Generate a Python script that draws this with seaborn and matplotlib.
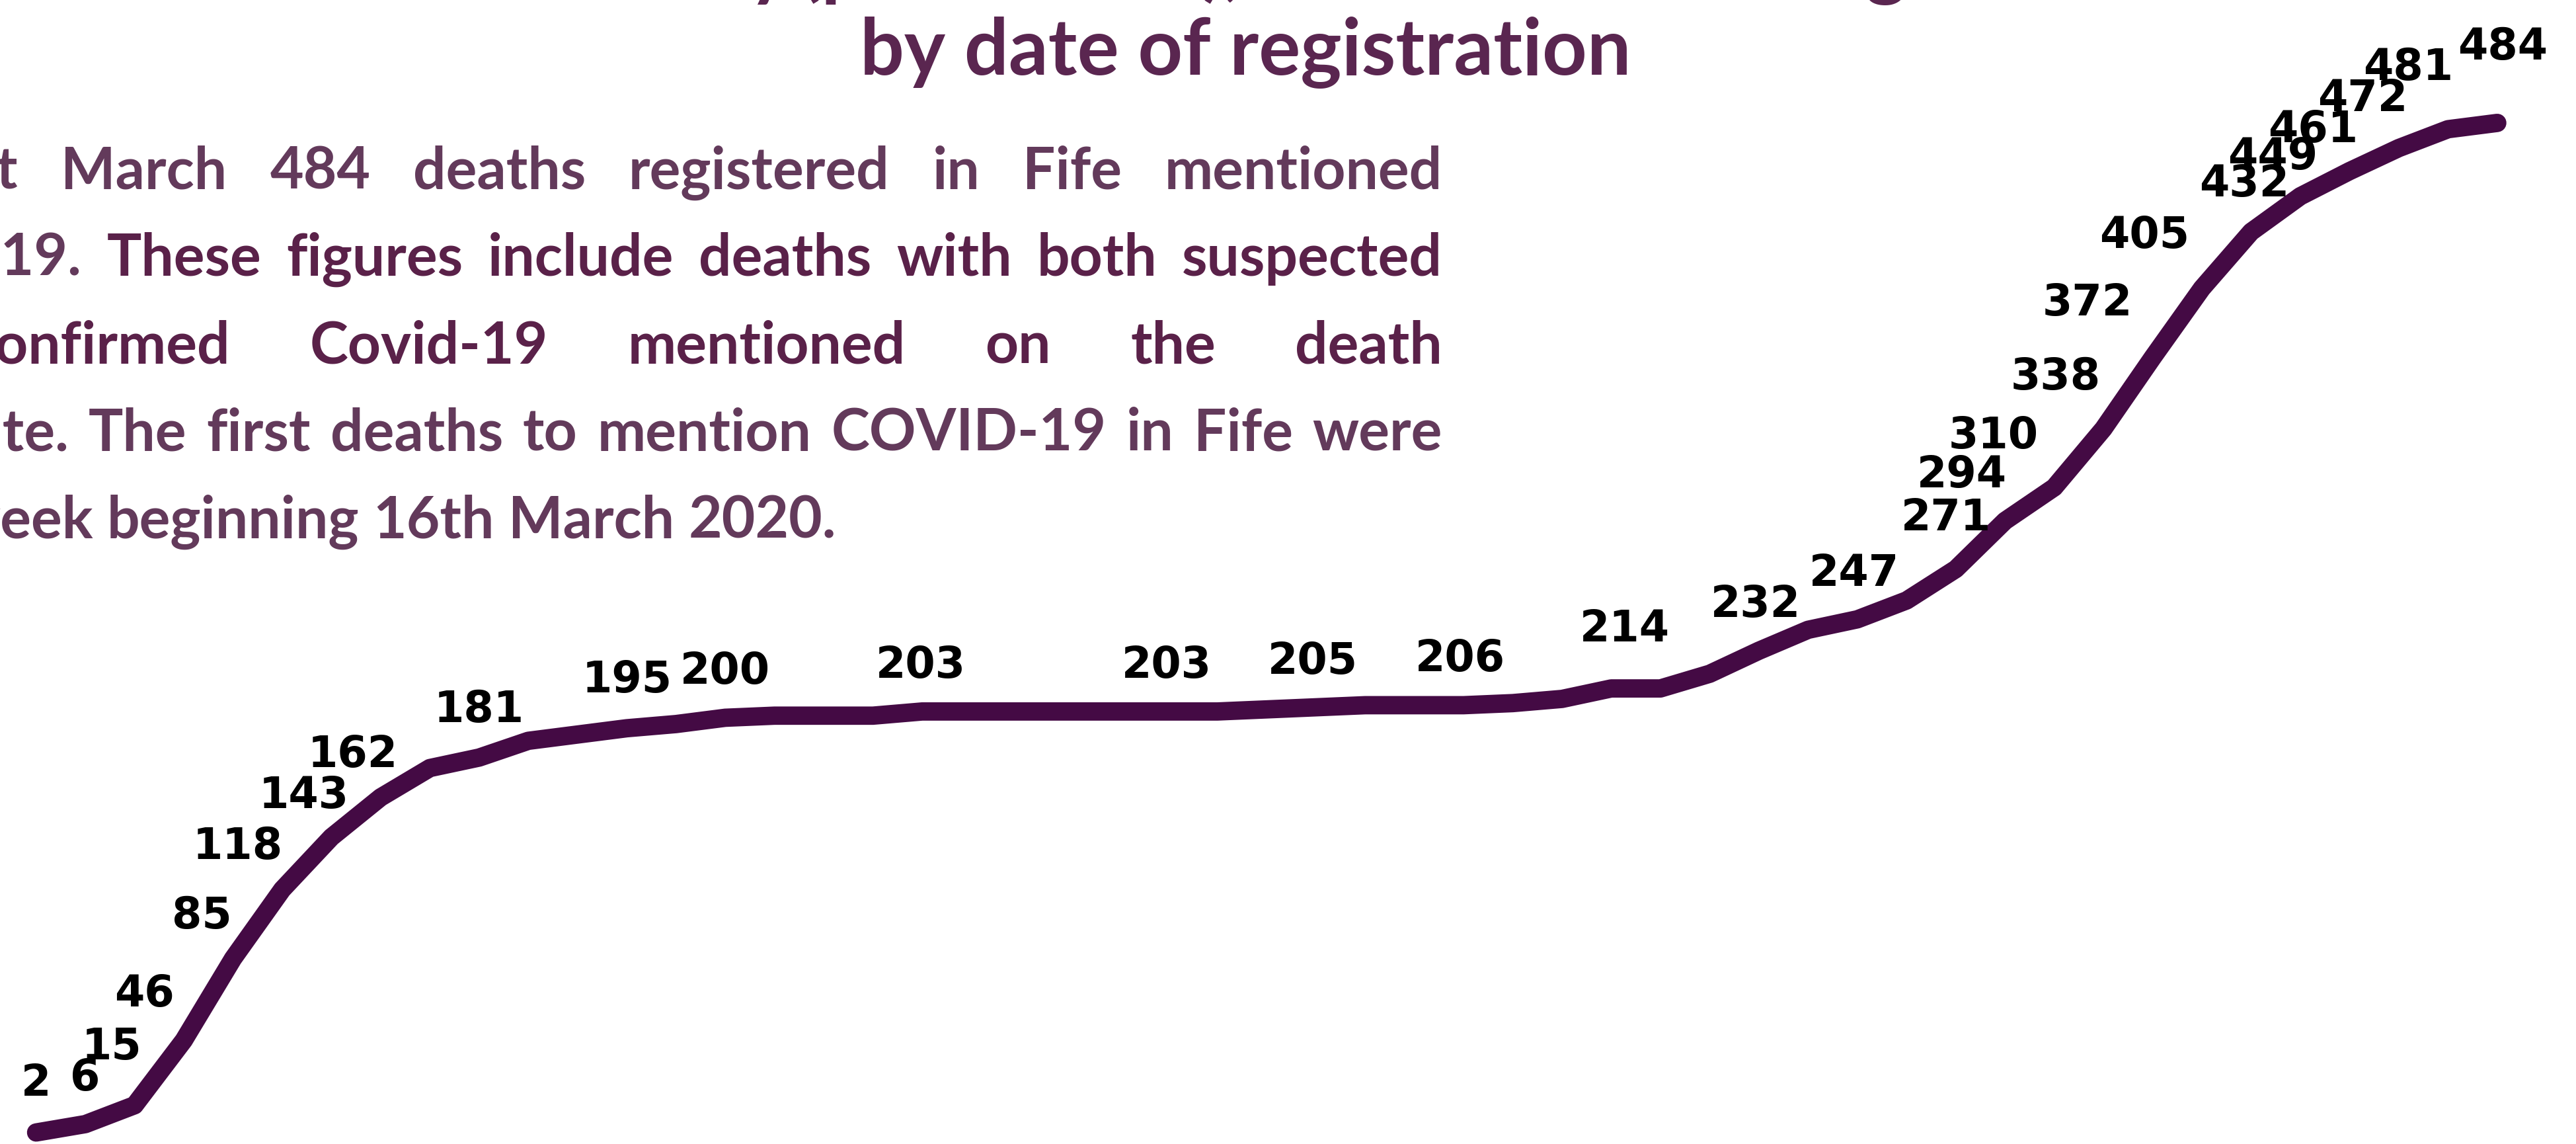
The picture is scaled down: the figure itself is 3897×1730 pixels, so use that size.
import matplotlib
matplotlib.use("Agg")
import pandas as pd
import matplotlib.pyplot as plt
import seaborn as sns

# Cumulative deaths mentioning COVID-19 in Fife, weekly, from week beginning 16 March 2020
week_start = pd.date_range("2020-03-16", periods=51, freq="7D")
deaths = [2, 6, 15, 46, 85, 118, 143, 162, 176, 181,
          189, 192, 195, 197, 200, 201, 201, 201, 203, 203,
          203, 203, 203, 203, 203, 204, 205, 206, 206, 206,
          207, 209, 214, 214, 221, 232, 242, 247, 256, 271,
          294, 310, 338, 372, 405, 432, 449, 461, 472, 481, 484]

# weeks that carry a data label in the original chart
labelled = [0, 1, 2, 3, 4, 5, 6, 7, 9, 12, 14, 18, 23, 26, 29, 32, 35, 37,
            39, 40, 41, 42, 43, 44, 45, 46, 47, 48, 49, 50]

title_top = ["Cumulative deaths in Fife weekly", "(provisional), deaths mentioning COVID-19"]
title = "by date of registration"
body_lines = [
    "By 21st March 484 deaths registered in Fife mentioned",
    "COVID-19. These figures include deaths with both suspected",
    "and confirmed Covid-19 mentioned on the death",
    "certificate.  The first deaths to mention COVID-19 in Fife were",
    "in the week beginning 16th March 2020.",
]

# label placement (pixel offsets from the point, y up, to the label baseline)
label_offsets = {
    0: (0, 57), 1: (0, 52), 2: (-35, 70), 3: (-60, 52), 4: (-47, 47),
    5: (-67, 47), 6: (-42, 45), 7: (-42, 47), 9: (0, 55), 12: (0, 55),
    14: (0, 52), 18: (-2, 52), 23: (-2, 52), 26: (-5, 52), 29: (-5, 52),
    32: (20, 72), 35: (-5, 52), 37: (-5, 52), 39: (-15, 60), 40: (-65, 52),
    41: (-92, 60), 42: (-72, 60), 43: (-99, 65), 44: (-87, 62), 45: (-10, 55),
    46: (-42, 42), 47: (-55, 45), 48: (-55, 57), 49: (-60, 75), 50: (8, 97),
}

LINE_COL = "#440a44"
TITLE_COL = "#5a2650"
BODY_LIGHT = "#633a5b"
BODY_DARK = "#5a2149"
W, H = 3897, 1731


def main():
    sns.set_theme(style="white")
    plt.rcParams["font.family"] = ["Lato", "DejaVu Sans"]

    fig = plt.figure(figsize=(W / 100, H / 100), dpi=100)
    ax = fig.add_axes([0, 0, 1, 1])

    df = pd.DataFrame({"week": week_start, "deaths": deaths})
    sns.lineplot(data=df, x="week", y="deaths", ax=ax, color=LINE_COL,
                 linewidth=20, solid_capstyle="round", solid_joinstyle="round")

    week = pd.Timedelta(days=7)
    ax.set_xlim(week_start[0] - 0.734 * week, week_start[0] + 51.6 * week)
    ax.set_ylim(-3.5, 543)
    ax.axis("off")

    for i in labelled:
        dx, dy = label_offsets[i]
        ax.annotate(str(deaths[i]), (week_start[i], deaths[i]), xytext=(dx, dy),
                    textcoords="offset pixels", ha="center", va="baseline",
                    fontsize=47, fontweight="bold", family="DejaVu Sans",
                    color="black", annotation_clip=False)

    # title (first line is cut off by the top edge)
    fig.text(1195 / W, 1 + 13 / H, title_top[0], ha="right", va="baseline",
             fontsize=85, fontweight="bold", color=TITLE_COL)
    fig.text(1210 / W, 1 + 13 / H, title_top[1], ha="left", va="baseline",
             fontsize=85, fontweight="bold", color=TITLE_COL)
    fig.text(1884 / W, 1 - 113 / H, title, ha="center", va="baseline",
             fontsize=85, fontweight="bold", color=TITLE_COL)

    # justified paragraph, left part runs off the canvas
    body_size = 63
    rend = fig.canvas.get_renderer()

    def text_w(s):
        t = fig.text(0, 0, s, fontsize=body_size, fontweight="bold")
        w = t.get_window_extent(renderer=rend).width
        t.remove()
        return w

    x_right = 2182
    x_left = -text_w("in the w")
    baselines = [286, 417, 550, 681, 814]
    for n, line in enumerate(body_lines):
        words = line.split()
        widths = [text_w(w) for w in words]
        if n < len(body_lines) - 1:
            gap = (x_right - x_left - sum(widths)) / (len(words) - 1)
        else:
            gap = text_w("a a") - 2 * text_w("a")
        x = x_left
        for k, (w, wd) in enumerate(zip(words, widths)):
            col = BODY_LIGHT
            if n == 2 or (n == 1 and k > 0):
                col = BODY_DARK
            fig.text(x / W, 1 - baselines[n] / H, w, ha="left", va="baseline",
                     fontsize=body_size, fontweight="bold", color=col)
            x += wd + gap

    fig.savefig("out.png", dpi=100, facecolor="white")
    plt.close(fig)


if __name__ == "__main__":
    main()
